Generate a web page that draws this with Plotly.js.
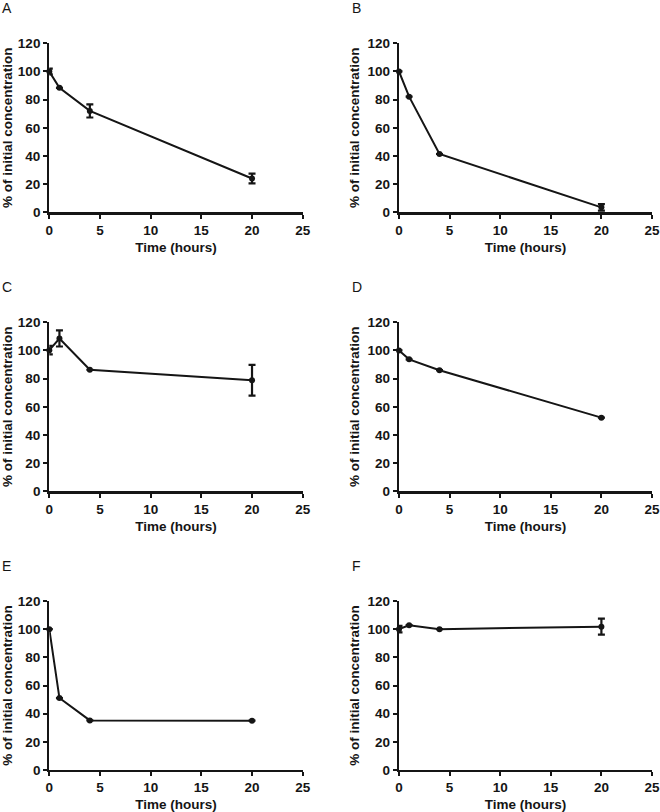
<!DOCTYPE html>
<html><head><meta charset="utf-8">
<script src="https://cdn.plot.ly/plotly-3.0.1.min.js"></script>
<style>html,body{margin:0;padding:0;background:#fff}#chart{width:660px;height:812px}</style>
</head><body><div id="chart"></div>
<script>
const timeHours = [0, 1, 4, 20];
const panelLabels = ["A", "B", "C", "D", "E", "F"];
const valuesA = [100, 88.4, 72, 24];
const errorsA = [2, 0, 4.7, 3.5];
const valuesB = [100, 82.1, 41.4, 3.5];
const errorsB = [0, 0, 0, 2.3];
const valuesC = [100.2, 108.5, 86.3, 78.8];
const errorsC = [3, 5.7, 0, 10.9];
const valuesD = [100, 93.7, 86, 52.3];
const errorsD = [0, 0, 0, 0];
const valuesE = [100, 51.1, 35.2, 35];
const errorsE = [0, 0, 0, 0];
const valuesF = [100, 102.8, 100, 101.8];
const errorsF = [2.3, 0, 0, 5.7];
const xTicks = [0, 5, 10, 15, 20, 25];
const yTicks = [0, 20, 40, 60, 80, 100, 120];
const xTitle = "Time (hours)";
const yTitle = "% of initial concentration";

const series = [valuesA, valuesB, valuesC, valuesD, valuesE, valuesF];
const errs = [errorsA, errorsB, errorsC, errorsD, errorsE, errorsF];

const W = 660, H = 812;
const colX = [[49.3, 302.7], [399, 652]];
const rowY = [[43.3, 212.3], [322.3, 491.3], [601, 770]];
const ink = "#151515";
const font = "Liberation Sans, Arial, sans-serif";
const b = s => "<b>" + s + "</b>";

const data = [];
const layout = {
  width: W, height: H, margin: {l: 0, r: 0, t: 0, b: 0},
  paper_bgcolor: "#fff", plot_bgcolor: "#fff", showlegend: false,
  annotations: []
};
for (let i = 0; i < 6; i++) {
  const c = i % 2, r = Math.floor(i / 2);
  const n = i + 1;
  const xa = n === 1 ? "xaxis" : "xaxis" + n;
  const ya = n === 1 ? "yaxis" : "yaxis" + n;
  const xr = n === 1 ? "x" : "x" + n;
  const yr = n === 1 ? "y" : "y" + n;
  data.push({
    type: "scatter", mode: "lines+markers", x: timeHours, y: series[i],
    xaxis: xr, yaxis: yr, cliponaxis: false,
    line: {color: ink, width: 2},
    marker: {color: ink, size: 6},
    error_y: {type: "data", array: errs[i], visible: true, color: ink, thickness: 2.2, width: 3.5}
  });
  const common = {
    showgrid: false, zeroline: false, showline: true, linecolor: ink, linewidth: 2.2,
    ticks: "outside", ticklen: 4, tickwidth: 2, tickcolor: ink,
    tickfont: {family: font, size: 13.5, color: ink},
    fixedrange: true
  };
  layout[xa] = Object.assign({}, common, {
    domain: [colX[c][0] / W, colX[c][1] / W], anchor: yr,
    range: [0, 25], tickvals: xTicks, ticktext: xTicks.map(v => b(v)),
    title: {text: b(xTitle), font: {family: font, size: 13.5, color: ink}, standoff: 6}
  });
  layout[ya] = Object.assign({}, common, {
    domain: [1 - rowY[r][1] / H, 1 - rowY[r][0] / H], anchor: xr,
    range: [0, 120], tickvals: yTicks, ticktext: yTicks.map(v => b(v)),
    title: {text: b(yTitle), font: {family: font, size: 13.5, color: ink}, standoff: 5}
  });
  layout.annotations.push({
    text: panelLabels[i], xref: "paper", yref: "paper",
    x: (c === 0 ? 0 : 350) / W, y: 1 - (rowY[r][0] - 35) / H,
    xanchor: "left", yanchor: "middle", showarrow: false,
    font: {family: font, size: 14, color: ink}
  });
}
Plotly.newPlot("chart", data, layout, {displayModeBar: false, staticPlot: true});
</script></body></html>
